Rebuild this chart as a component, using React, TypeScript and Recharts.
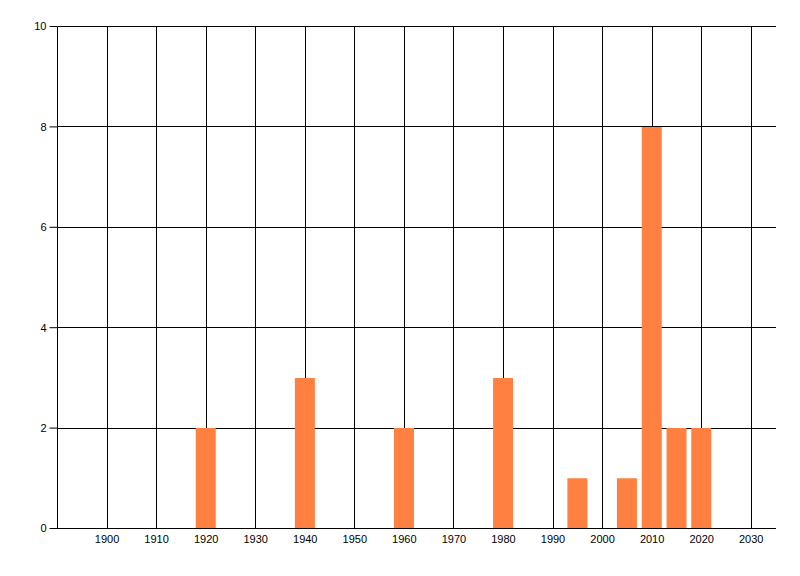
import React from 'react';
import { BarChart, Bar, XAxis, YAxis, CartesianGrid } from 'recharts';

const years = [1920, 1940, 1960, 1980, 1995, 2005, 2010, 2015, 2020];
const counts = [2, 3, 2, 3, 1, 1, 8, 2, 2];
const xTicks = [1900, 1910, 1920, 1930, 1940, 1950, 1960, 1970, 1980, 1990, 2000, 2010, 2020, 2030];
const yTicks = [0, 2, 4, 6, 8, 10];
const xDomain = [1890, 2035];

const data = years.map((y, i) => ({ year: y, count: counts[i] }));

const crisp = (v: number) => Math.floor(v) + 0.5;

const vGen = (props: any) => {
  const xAxis = props && props.xAxis;
  if (xAxis && typeof xAxis.scale === 'function') {
    return xTicks.map((t) => crisp(xAxis.scale(t)));
  }
  const off = props.offset;
  return xTicks.map((t) => crisp(off.left + ((t - xDomain[0]) / (xDomain[1] - xDomain[0])) * off.width));
};

const hGen = (props: any) => {
  const yAxis = props && props.yAxis;
  if (yAxis && typeof yAxis.scale === 'function') {
    return yTicks.map((t) => crisp(yAxis.scale(t)));
  }
  const off = props.offset;
  return yTicks.map((t) => crisp(off.top + off.height - (t / 10) * off.height));
};

export default function App() {
  const tickStyle = { fill: '#000', fontSize: 11, fontFamily: 'Liberation Sans, Arial, sans-serif' };
  return (
    <div style={{ position: 'absolute', left: 0, top: 0, width: 800, height: 576, background: '#fff' }}>
      <BarChart
        width={800}
        height={576}
        data={data}
        margin={{ top: 26.5, right: 24, left: 0, bottom: 0 }}
        barSize={20}
      >
        <CartesianGrid
          stroke="#000"
          strokeWidth={1}
          verticalCoordinatesGenerator={vGen}
          horizontalCoordinatesGenerator={hGen}
        />
        <XAxis
          dataKey="year"
          type="number"
          domain={xDomain}
          ticks={xTicks}
          allowDataOverflow
          interval={0}
          height={47.5}
          tickLine={false}
          tickSize={0}
          tickMargin={7}
          axisLine={{ stroke: '#000' }}
          tick={tickStyle}
        />
        <YAxis
          type="number"
          domain={[0, 10]}
          ticks={yTicks}
          interval={0}
          width={57.5}
          tickSize={8}
          tickMargin={3}
          tickLine={{ stroke: '#000' }}
          axisLine={{ stroke: '#000' }}
          tick={tickStyle}
        />
        <Bar dataKey="count" fill="#FF8040" isAnimationActive={false} />
      </BarChart>
    </div>
  );
}
